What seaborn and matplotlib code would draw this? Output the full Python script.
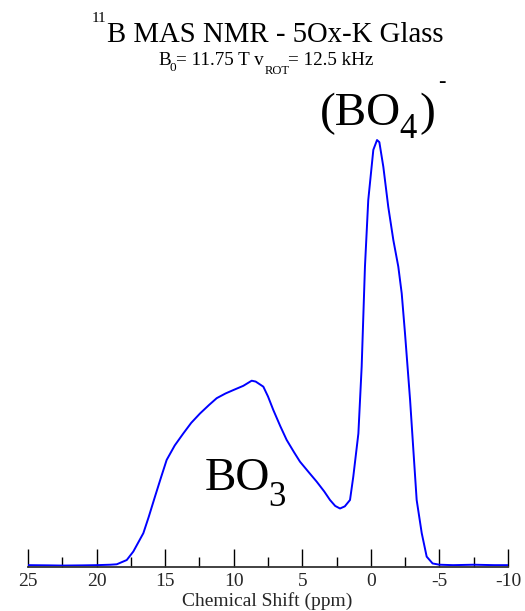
import numpy as np
import pandas as pd
import matplotlib
matplotlib.use("Agg")
import matplotlib.pyplot as plt
from matplotlib.ticker import MultipleLocator
import seaborn as sns

# Chemical shift (ppm) and intensity (arbitrary units, peak = 100)
shift_ppm = [25.0, 23.5, 22.5, 21.0, 20.0, 19.0, 18.53, 17.8, 17.32, 16.59, 16.2,
             15.74, 15.3, 14.89, 14.3, 13.68, 13.1, 12.46, 11.8, 11.24, 10.6, 10.03,
             9.3, 8.69, 8.4, 7.84, 7.5, 7.11, 6.6, 6.14, 5.6, 5.17, 4.5, 3.95, 3.4,
             2.98, 2.6, 2.25, 1.9, 1.52, 1.28, 0.91, 0.67, 0.43, 0.19,
             -0.18, -0.45, -0.62, -0.91, -1.27, -1.64, -2.0, -2.25, -2.49, -2.86,
             -3.1, -3.34, -3.71, -4.07, -4.5, -5.0, -6.0, -7.5, -9.0, -10.0]
intensity = [0.2, 0.15, 0.1, 0.15, 0.2, 0.3, 0.4, 1.4, 3.4, 7.7, 11.5,
             16.3, 20.8, 24.9, 28.3, 31.1, 33.6, 35.8, 37.8, 39.4, 40.5, 41.3,
             42.3, 43.5, 43.3, 42.1, 39.8, 36.6, 32.8, 29.6, 26.7, 24.5, 21.9, 19.8, 17.5,
             15.5, 14.1, 13.5, 14.0, 15.5, 21.0, 31.1, 46.8, 70.3, 85.9,
             97.7, 100.0, 99.5, 93.7, 84.3, 76.5, 70.3, 64.0, 54.6, 39.0,
             27.2, 15.5, 7.7, 2.2, 0.6, 0.3, 0.2, 0.3, 0.2, 0.2]

x_ticks = [25, 20, 15, 10, 5, 0, -5, -10]

xlabel_text = "Chemical Shift (ppm)"
# (text, font size pt, left x px, baseline y px)
title_runs = [("11", 11, 91.5, 22.0), ("B MAS NMR - 5Ox-K Glass", 20.7, 106.7, 41.7)]
subtitle_runs = [("B", 13.8, 158.3, 65.0), ("0", 9.5, 169.5, 71.0),
                 ("= 11.75 T v", 13.8, 175.5, 65.0), ("ROT", 9.0, 264.5, 74.3),
                 ("= 12.5 kHz", 13.8, 288.0, 65.0)]
bo3_runs = [("BO", 34, 205.0, 489.5), ("3", 25, 268.0, 506.5)]
bo4_runs = [("(BO", 34, 320.0, 125.0), ("4", 25, 399.5, 138.3), (")", 34, 419.5, 125.0),
            ("-", 16, 438.5, 87.0)]

df = pd.DataFrame({"shift": shift_ppm, "intensity": intensity})

sns.set_theme(style="white")
plt.rcParams["font.family"] = ["Liberation Serif", "DejaVu Serif"]

W, H = 525, 611
fig = plt.figure(figsize=(W / 100, H / 100), dpi=100)
ax_left, ax_right = 28, 508
ax_bottom_px, ax_top_px = 567, 100
ax = fig.add_axes([ax_left / W, 1 - ax_bottom_px / H,
                   (ax_right - ax_left) / W, (ax_bottom_px - ax_top_px) / H])

sns.lineplot(data=df, x="shift", y="intensity", ax=ax, color="#0000ff",
             linewidth=1.4, sort=False)

ax.set_xlim(25, -10)
ax.set_ylim(-0.235, 109.4)
ax.set_xticks(x_ticks)
ax.set_xticklabels([str(t) for t in x_ticks], fontsize=14)
ax.xaxis.set_minor_locator(MultipleLocator(2.5))
ax.set_yticks([])
ax.tick_params(axis="x", which="major", direction="in", length=13, width=1,
               color="black", pad=4, bottom=True)
ax.tick_params(axis="x", which="minor", direction="in", length=7, width=1,
               color="black", bottom=True)
ax.set_xlabel("")
ax.set_ylabel("")
for side in ["top", "left", "right"]:
    ax.spines[side].set_visible(False)
ax.spines["bottom"].set_color("#333333")
ax.spines["bottom"].set_linewidth(1.3)
ax.set_facecolor("white")


def place_runs(runs):
    for s, size, x_px, y_px in runs:
        fig.text(x_px / W, 1 - y_px / H, s, fontsize=size, ha="left",
                 va="baseline", color="black")


place_runs(title_runs)
place_runs(subtitle_runs)
place_runs(bo3_runs)
place_runs(bo4_runs)

fig.text(267.5 / W, 1 - 606 / H, xlabel_text, fontsize=14, ha="center", va="baseline")

fig.savefig("out.png", dpi=100, facecolor="white")
